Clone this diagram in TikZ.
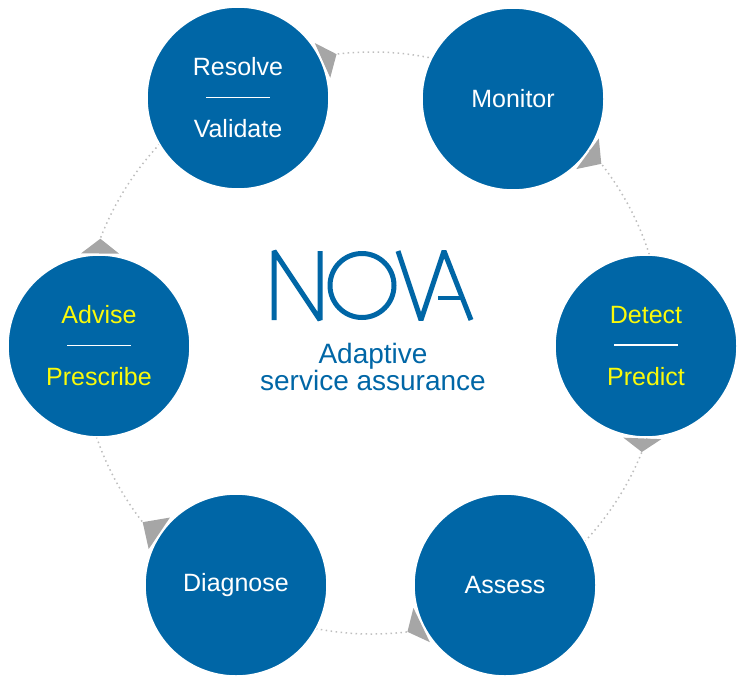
\documentclass[tikz,border=0pt]{standalone}
\usepackage{fontspec}
\setmainfont{Liberation Sans}
\usetikzlibrary{calc}
\definecolor{novablue}{RGB}{0,102,166}
\definecolor{novagray}{RGB}{166,166,166}
\definecolor{ringgray}{RGB}{190,190,190}
\definecolor{novayellow}{RGB}{250,250,10}
\newcommand{\stagefont}{\fontsize{25}{31}\selectfont}
\newcommand{\sepline}{\textcolor{white}{\rule[8.5pt]{64pt}{1.5pt}}}

\begin{document}
\begin{tikzpicture}[
x=1pt,y=1pt,
stage/.style={
  circle,
  fill=novablue,
  draw=white,
  line width=1.5pt,
  minimum size=182pt,
  inner sep=0pt,
  text=white,
  font=\stagefont,
  align=center
  },
hint/.style={text=novayellow},
ring/.style={ringgray,line width=1.5pt,dash pattern=on 1.5pt off 3.5pt},
turn/.style={fill=novagray},
logo/.style={novablue,line width=5pt,line join=bevel}
]
\useasboundingbox (0,0) rectangle (749,-693);
\coordinate (hub) at (372,-343);
\draw[ring] (hub) circle[radius=291];

\node[stage] (resolve) at (238,-98) {Resolve\\\sepline\\Validate};
\node[stage] (monitor) at (513,-99) {Monitor};
\node[stage,hint] (detect) at (646,-346) {Detect\\\sepline\\Predict};
\node[stage] (assess) at (505,-585) {Assess};
\node[stage] (diagnose) at (236,-585) {Diagnose};
\node[stage,hint] (advise) at (99,-346) {Advise\\\sepline\\Prescribe};

% arrowheads sit on the ring where it leaves each stage
\foreach \Stage/\Angle in {resolve/97,monitor/38,detect/-22,assess/-83,diagnose/-142,advise/159}
  {
  \coordinate (t) at ($(hub)+(\Angle:291)$);
  \coordinate (b) at ($(\Stage.center)!92.5pt!(t)$);
  \fill[turn] (t) -- ($(b)!19pt!90:(t)$) -- ($(b)!19pt!-90:(t)$) -- cycle;
  }

% logo
\draw[logo] (274,-320) -- (274,-251) -- (320,-320) -- (320,-251);
\draw[logo] (362,-285.5) circle[radius=32];
\draw[logo] (398,-251) -- (421,-320) -- (444,-251) -- (471,-320);
\draw[logo,line width=4pt] (438,-298) -- (463,-298);
\node[text=novablue,font=\fontsize{28}{27.5}\selectfont,align=center] (motto) at (373,-367)
  {Adaptive\\service assurance};
\end{tikzpicture}
\end{document}
